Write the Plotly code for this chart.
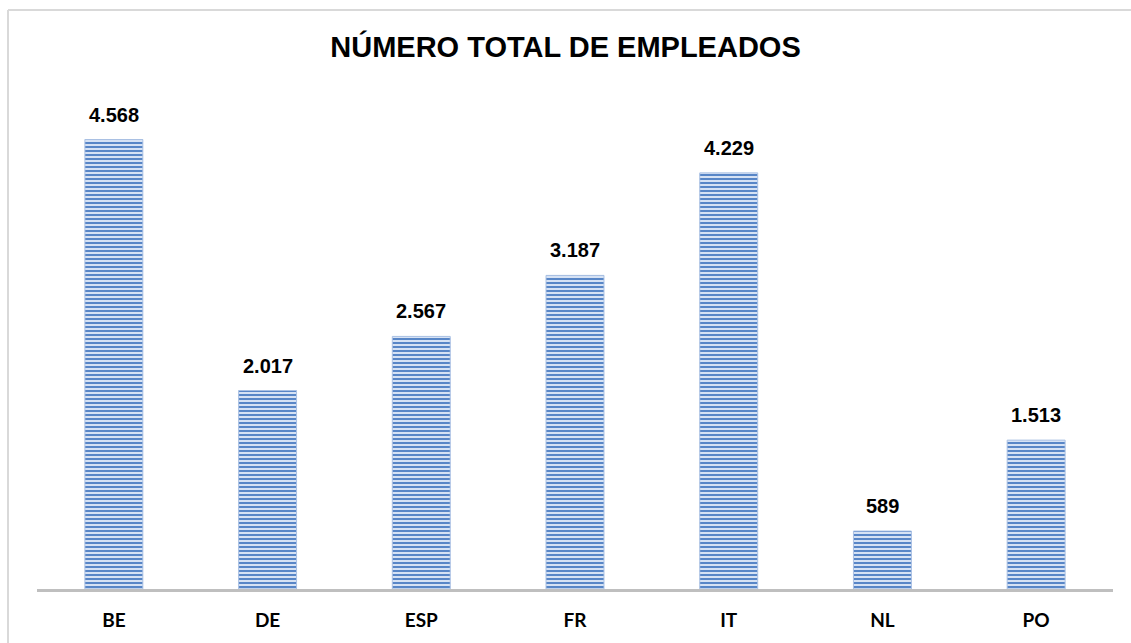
import plotly.graph_objects as go

categories = ["BE", "DE", "ESP", "FR", "IT", "NL", "PO"]
values = [4568, 2017, 2567, 3187, 4229, 589, 1513]
value_labels = ["4.568", "2.017", "2.567", "3.187", "4.229", "589", "1.513"]
title_text = "NÚMERO TOTAL DE EMPLEADOS"

W, H = 1131, 643
ML, MR, MT, MB = 37, 18, 97, 54
PW = W - ML - MR
PH = H - MT - MB

fig = go.Figure()
fig.add_trace(go.Bar(
    x=categories,
    y=values,
    marker=dict(
        color="#c9d8ef",
        line=dict(color="#a9c0e3", width=1),
        pattern=dict(shape="-", size=4, solidity=0.45,
                     fgcolor="#4a7cc2", bgcolor="#d6e2f4", fillmode="replace"),
    ),
    hoverinfo="skip",
))

for c, v, lab in zip(categories, values, value_labels):
    fig.add_annotation(
        x=c, y=v, text=lab, showarrow=False, yanchor="middle",
        yshift=25,
        font=dict(family="Liberation Sans Narrow, Arial Narrow, Liberation Sans",
                  size=20, color="#000000", weight="bold"),
    )

def px_x(p):
    return (p - ML) / PW

def px_y(p):
    return (H - MB - p) / PH

# outer frame (top and left edges)
fig.add_shape(type="line", xref="paper", yref="paper",
              x0=px_x(8), x1=px_x(1131), y0=px_y(10), y1=px_y(10),
              line=dict(color="#d9d9d9", width=2))
fig.add_shape(type="line", xref="paper", yref="paper",
              x0=px_x(8), x1=px_x(8), y0=px_y(10), y1=px_y(643),
              line=dict(color="#d9d9d9", width=2))

fig.update_layout(
    width=W, height=H,
    margin=dict(l=ML, r=MR, t=MT, b=MB, autoexpand=False),
    paper_bgcolor="white", plot_bgcolor="white",
    title=dict(text=title_text, x=0.5, xanchor="center", y=1 - 47 / H, yanchor="middle",
               font=dict(family="Liberation Sans, Arial", size=29, color="#000000", weight="bold")),
    bargap=0.623,
    showlegend=False,
    xaxis=dict(
        showline=True, linecolor="#bfbfbf", linewidth=3,
        ticks="", showgrid=False, zeroline=False,
        tickfont=dict(family="Lato, Open Sans", size=19, color="#000000", weight="bold"),
        ticklabelstandoff=12,
        automargin=False,
        fixedrange=True,
    ),
    yaxis=dict(range=[0, 5000], visible=False, showgrid=False, zeroline=False,
               automargin=False, fixedrange=True),
)

fig.write_html(
    "out.html",
    config={"displayModeBar": False},
    post_script="document.body.style.margin='0';document.body.style.overflow='hidden';",
)
